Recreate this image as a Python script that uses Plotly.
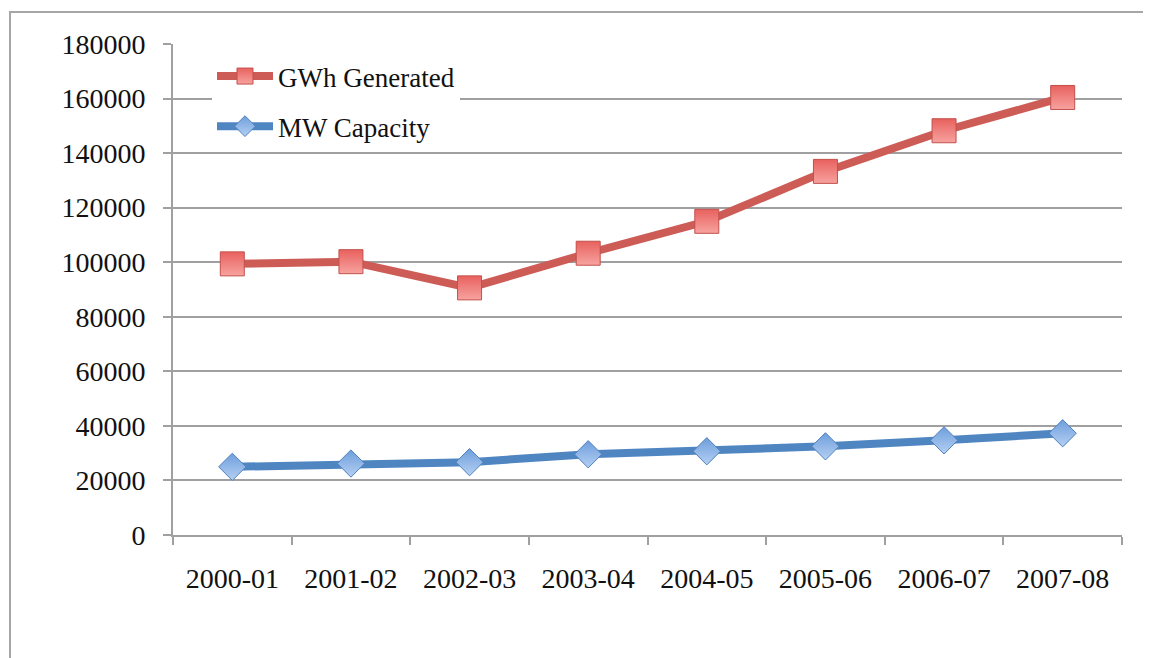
import plotly.graph_objects as go

categories = ["2000-01", "2001-02", "2002-03", "2003-04", "2004-05", "2005-06", "2006-07", "2007-08"]
gwh_generated = [99400, 100200, 90600, 103300, 115000, 133300, 148200, 160400]
mw_capacity = [25000, 26200, 26700, 29600, 30700, 32500, 34700, 37300]
y_ticks = [0, 20000, 40000, 60000, 80000, 100000, 120000, 140000, 160000, 180000]

OFF = 8  # default page body margin
W, H = 1143, 650
L, R, T, B = 165, 29, 36, 123
pw, ph = W - L - R, H - T - B

def px_x(x):
    return (x - OFF - L) / pw

def px_y(y):
    return (H - B - (y - OFF)) / ph

FONT = "Liberation Serif"

fig = go.Figure()
fig.add_trace(go.Scatter(
    x=categories, y=gwh_generated, name="GWh Generated", mode="lines+markers",
    line=dict(color="#CD5C57", width=8),
    marker=dict(symbol="square", size=24, color="#E8615E",
                gradient=dict(type="vertical", color="#F7A3A0"),
                line=dict(color="#C2504C", width=1)),
    legendgroup="a",
))
fig.add_trace(go.Scatter(
    x=categories, y=mw_capacity, name="MW Capacity", mode="lines+markers",
    line=dict(color="#4F86C2", width=8),
    marker=dict(symbol="diamond", size=21, color="#6E9EDC",
                gradient=dict(type="vertical", color="#B5D0F3"),
                line=dict(color="#4F81BD", width=1)),
    legendgroup="b",
))

fig.update_layout(
    width=W, height=H,
    margin=dict(l=L, r=R, t=T, b=B),
    paper_bgcolor="white", plot_bgcolor="white",
    font=dict(family=FONT, size=28, color="#111111"),
    showlegend=True,
    legend=dict(x=px_x(212), y=px_y(52), xanchor="left", yanchor="top",
                bgcolor="white", font=dict(family=FONT, size=27, color="#111111"),
                traceorder="grouped", tracegroupgap=12, itemwidth=56),
    xaxis=dict(type="category", showgrid=False, showline=True, linecolor="#A0A0A0", linewidth=2,
               ticks="outside", ticklen=8, tickcolor="#A0A0A0", tickwidth=2,
               tickson="boundaries", range=[-0.5, 7.5], ticklabelstandoff=17),
    yaxis=dict(range=[0, 180000], tickvals=y_ticks, ticktext=[str(v) for v in y_ticks],
               showgrid=True, gridcolor="#A0A0A0", gridwidth=2,
               showline=True, linecolor="#A0A0A0", linewidth=2,
               ticks="outside", ticklen=8, tickcolor="#A0A0A0", tickwidth=2,
               zeroline=False, ticklabelstandoff=12),
    shapes=[dict(type="rect", xref="paper", yref="paper",
                 x0=px_x(10), x1=px_x(1170), y0=px_y(700), y1=px_y(12),
                 line=dict(color="#A6A6A6", width=2), fillcolor="rgba(0,0,0,0)", layer="below")],
)

fig.write_html("out.html")
